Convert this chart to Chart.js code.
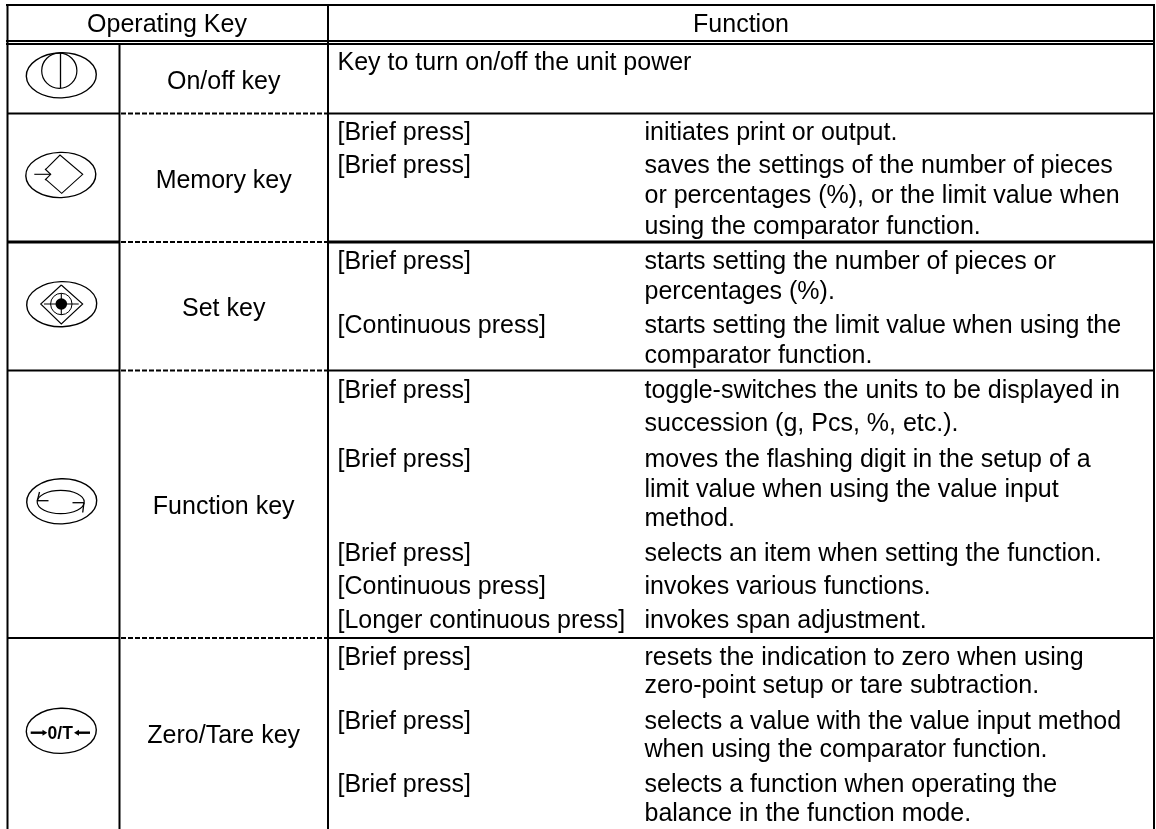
<!DOCTYPE html>
<html><head><meta charset="utf-8">
<style>html,body{margin:0;padding:0;background:#fff}canvas{display:block}</style>
<script src="https://cdn.jsdelivr.net/npm/chart.js@4"></script></head>
<body><canvas id="c" width="1156" height="829"></canvas>
<script>
const FONT_SIZE = 25;
const headers = [["Operating Key",167,32,"center"],["Function",741,32,"center"]];
const keyNames = [["On/off key",89],["Memory key",188],["Set key",316],["Function key",514],["Zero/Tare key",743]];
const pressLabels = [
 ["Key to turn on/off the unit power",70],
 ["[Brief press]",140],["[Brief press]",173],
 ["[Brief press]",269],["[Continuous press]",333],
 ["[Brief press]",398],["[Brief press]",467],["[Brief press]",561],["[Continuous press]",594],["[Longer continuous press]",628],
 ["[Brief press]",665],["[Brief press]",729],["[Brief press]",792]];
const descriptions = [
 ["initiates print or output.",140],
 ["saves the settings of the number of pieces",173],["or percentages (%), or the limit value when",203],["using the comparator function.",234],
 ["starts setting the number of pieces or",269],["percentages (%).",299],["starts setting the limit value when using the",333],["comparator function.",363],
 ["toggle-switches the units to be displayed in",398],["succession (g, Pcs, %, etc.).",431],["moves the flashing digit in the setup of a",467],["limit value when using the value input",497],["method.",526],
 ["selects an item when setting the function.",561],["invokes various functions.",594],["invokes span adjustment.",628],
 ["resets the indication to zero when using",665],["zero-point setup or tare subtraction.",693],["selects a value with the value input method",729],["when using the comparator function.",757],["selects a function when operating the",792],["balance in the function mode.",821]];
const solidRules = [
 [[6,5],[1155,5],2],[[6,41],[1155,41],2],[[6,44],[1155,44],2],
 [[7.5,5],[7.5,829],2],[[328,5],[328,829],2],[[1154,5],[1154,829],2],[[119.5,44],[119.5,829],2],
 [[7,113.5],[120,113.5],2],[[328,113.5],[1154,113.5],2],
 [[7,242],[120,242],3],[[328,242],[1154,242],3],
 [[7,370.5],[120,370.5],2],[[328,370.5],[1154,370.5],2],
 [[7,638],[120,638],2],[[328,638],[1154,638],2]];
const dashedRules = [[121,113.5],[121,242],[121,370.5],[121,638]];
const dashEnd = 328;

const ruleSets = solidRules.map(r=>({type:'scatter',showLine:true,data:[{x:r[0][0],y:r[0][1]},{x:r[1][0],y:r[1][1]}],borderColor:'#000',borderWidth:r[2],pointRadius:0}));
const dashSets = dashedRules.map(r=>({type:'scatter',showLine:true,data:[{x:r[0],y:r[1]},{x:dashEnd,y:r[1]}],borderColor:'#000',borderWidth:1.8,borderDash:[5,2],pointRadius:0}));

const icons = {
 onoff:[61.3,75.3],memory:[60.8,175],set:[61.7,304.2],func:[61.7,501.3],zero:[61.3,730.8]
};
const tablePlugin = {id:'table',afterDatasetsDraw(ch){
 const g=ch.ctx,X=v=>ch.scales.x.getPixelForValue(v),Y=v=>ch.scales.y.getPixelForValue(v);
 g.save();g.fillStyle='#000';g.textBaseline='alphabetic';
 g.font=FONT_SIZE+'px "Liberation Sans"';
 g.textAlign='center';
 headers.forEach(h=>g.fillText(h[0],X(h[1]),Y(h[2])));
 keyNames.forEach(k=>g.fillText(k[0],X(223.7),Y(k[1])));
 g.textAlign='left';
 pressLabels.forEach(p=>g.fillText(p[0],X(337.5),Y(p[1])));
 descriptions.forEach(d=>g.fillText(d[0],X(644.5),Y(d[1])));
 g.strokeStyle='#000';g.lineWidth=1.4;
 const ell=(c,rx,ry,rot=-0.03)=>{g.beginPath();g.ellipse(X(c[0]),Y(c[1]),rx,ry,rot,0,Math.PI*2);g.stroke();};
 const poly=(pts,lw=1.1)=>{g.lineWidth=lw;g.beginPath();pts.forEach((p,i)=>i?g.lineTo(X(p[0]),Y(p[1])):g.moveTo(X(p[0]),Y(p[1])));g.stroke();g.lineWidth=1.4;};
 Object.values(icons).forEach(c=>ell(c,35,22.6));
 // on/off
 g.lineWidth=1.2;g.beginPath();g.arc(X(59.3),Y(70.7),17.6,0,Math.PI*2);g.stroke();
 poly([[60.5,53],[60.5,88]],1.3);
 // memory
 poly([[45.7,169.3],[60,155],[82.7,174.3],[61.7,193.3],[45.7,179.3]]);
 poly([[34.3,174.3],[50.7,174.3]]);poly([[45,169],[50.7,174.3],[45,180]]);
 // set
 poly([[61.3,285],[82.7,304],[61.3,324],[40.7,304],[61.3,285]]);
 g.lineWidth=1;g.beginPath();g.arc(X(61.3),Y(304),10.7,0,Math.PI*2);g.stroke();
 g.beginPath();g.arc(X(61.3),Y(304),5.8,0,Math.PI*2);g.fill();
 poly([[44,304],[78.7,304]]);poly([[61.3,293.3],[61.3,315]]);
 // function
 g.lineWidth=1.2;g.beginPath();g.ellipse(X(60.7),Y(502),23.5,11.6,0,0,Math.PI*2);g.stroke();
 poly([[37.3,500.7],[48.5,500.7]],1.3);poly([[39.5,492],[37.3,500.7]],1.3);
 poly([[72.5,502.7],[84,502.7]],1.3);poly([[84,502.7],[82.7,512.5]],1.3);
 // zero / tare
 poly([[30.7,732.7],[44,732.7]],2.4);
 g.beginPath();g.moveTo(X(47.3),Y(732.7));g.lineTo(X(42.5),Y(729.7));g.lineTo(X(42.5),Y(735.7));g.closePath();g.fill();
 poly([[77,732.7],[90,732.7]],2.4);
 g.beginPath();g.moveTo(X(74),Y(732.7));g.lineTo(X(79),Y(729.7));g.lineTo(X(79),Y(735.7));g.closePath();g.fill();
 g.font='bold 17.5px "Liberation Sans"';g.textAlign='center';g.fillText('0/T',X(60.2),Y(739.2));
 g.restore();
}};

new Chart(document.getElementById('c'),{
 type:'scatter',
 data:{datasets:[...ruleSets,...dashSets]},
 options:{responsive:false,animation:false,events:[],
  layout:{padding:0},
  plugins:{legend:{display:false},tooltip:{enabled:false},title:{display:false}},
  scales:{x:{type:'linear',min:0,max:1156,display:false},y:{type:'linear',min:0,max:829,reverse:true,display:false}}},
 plugins:[tablePlugin]});
</script></body></html>
